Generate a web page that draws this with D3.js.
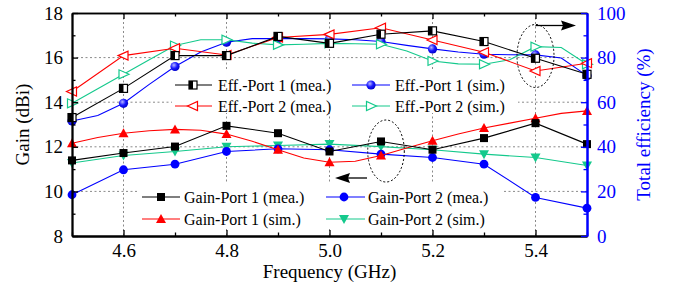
<!DOCTYPE html>
<html><head><meta charset="utf-8">
<script src="https://cdn.jsdelivr.net/npm/d3@7"></script>
<style>body{margin:0;background:#fff}svg{display:block}</style>
</head><body><svg id="c" width="673" height="288"></svg>
<script>
// ---- data ----
const freq = [4.5, 4.6, 4.7, 4.8, 4.9, 5.0, 5.1, 5.2, 5.3, 5.4, 5.5];
const freqSim = [4.5, 4.55, 4.6, 4.65, 4.7, 4.75, 4.8, 4.85, 4.9, 4.95, 5.0, 5.05, 5.1, 5.15, 5.2, 5.25, 5.3, 5.35, 5.4, 5.45, 5.5];
// total efficiency (%)
const effP1Mea = [53.1, 66.2, 80.9, 80.9, 89.5, 86.4, 90.5, 92.0, 87.2, 79.7, 72.5];
const effP2Mea = [64.8, 80.9, 84.2, 81.2, 89.0, 90.4, 93.4, 87.9, 82.4, 74.0, 77.5];
const effP1Sim = [51.6, 54.0, 59.5, 68.0, 76.0, 82.5, 86.9, 88.5, 88.5, 88.5, 88.4, 88.0, 87.2, 85.5, 83.9, 82.5, 81.5, 81.3, 81.2, 79.8, 71.9];
const effP2Sim = [59.5, 66.0, 72.5, 79.0, 85.4, 88.0, 88.0, 86.5, 85.7, 86.0, 86.4, 86.2, 86.0, 83.0, 78.5, 77.2, 77.0, 79.0, 84.9, 84.5, 77.0];
// gain (dBi)
const gainP1Mea = [11.39, 11.72, 12.01, 12.94, 12.61, 11.79, 12.24, 11.87, 12.39, 13.06, 12.12];
const gainP2Mea = [9.85, 10.97, 11.22, 11.79, 11.91, 11.87, 11.67, 11.52, 11.22, 9.73, 9.25];
const gainP1Sim = [12.16, 12.42, 12.61, 12.72, 12.78, 12.74, 12.57, 12.25, 11.87, 11.5, 11.31, 11.35, 11.61, 11.95, 12.27, 12.57, 12.84, 13.06, 13.28, 13.5, 13.61];
const gainP2Sim = [11.27, 11.61, 11.79, 12.0, 12.06, 12.12, 12.01, 11.87, 11.67, 11.52, 11.16];
// ticks
const xTicks = [4.6, 4.8, 5.0, 5.2, 5.4];
const xMinor = [4.5, 4.7, 4.9, 5.1, 5.3, 5.5];
const gainTicks = [8, 10, 12, 14, 16, 18];
const gainMinor = [9, 11, 13, 15, 17];
const effTicks = [0, 20, 40, 60, 80, 100];
const effMinor = [10, 30, 50, 70, 90];

// ---- layout ----
const W = 673, H = 288;
const m = {l: 72, r: 86, t: 13, b: 52};
const FONT = "'Liberation Serif','Times New Roman',serif";
const BLUE = "#0000ff", RED = "#ff0000", GREEN = "#14c98c", BLACK = "#000";

const svg = d3.select("#c");
const x = d3.scaleLinear().domain([4.5, 5.5]).range([m.l, W - m.r]);
const yL = d3.scaleLinear().domain([8, 18]).range([H - m.b, m.t]);
const yR = d3.scaleLinear().domain([0, 100]).range([H - m.b, m.t]);

const defs = svg.append("defs");
const rg = defs.append("radialGradient").attr("id", "sph").attr("cx", "38%").attr("cy", "35%").attr("r", "65%");
rg.append("stop").attr("offset", "0%").attr("stop-color", "#b8b8ff");
rg.append("stop").attr("offset", "55%").attr("stop-color", "#1a1aff");
rg.append("stop").attr("offset", "100%").attr("stop-color", "#0000cc");

// gridlines
const grid = svg.append("g").attr("stroke", "#8a8a8a").attr("stroke-width", 1).attr("stroke-dasharray", "2,2.5");
grid.selectAll("line.v").data(xTicks).join("line")
  .attr("x1", d => x(d)).attr("x2", d => x(d)).attr("y1", m.t).attr("y2", H - m.b);
grid.selectAll("line.h").data([10, 12, 14, 16]).join("line")
  .attr("y1", d => yL(d)).attr("y2", d => yL(d)).attr("x1", m.l).attr("x2", W - m.r);

// legend backgrounds (hide grid)
svg.append("rect").attr("x", 172).attr("y", 69).attr("width", 346).attr("height", 44).attr("fill", "#fff");
svg.append("rect").attr("x", 138).attr("y", 184).attr("width", 364).attr("height", 45).attr("fill", "#fff");

// markers
function marker(g, type, color, cx, cy) {
  const t = `translate(${cx},${cy})`;
  const s = 4.5;
  switch (type) {
    case "halfSquare":
      g.append("rect").attr("transform", t).attr("x", -4).attr("y", -4).attr("width", 8).attr("height", 8)
        .attr("fill", "#fff").attr("stroke", color).attr("stroke-width", 1.2);
      g.append("rect").attr("transform", t).attr("x", -4).attr("y", -4).attr("width", 4).attr("height", 8).attr("fill", color);
      break;
    case "square":
      g.append("rect").attr("transform", t).attr("x", -4).attr("y", -4).attr("width", 8).attr("height", 8).attr("fill", color);
      break;
    case "sphere":
      g.append("circle").attr("transform", t).attr("r", 4.6).attr("fill", "url(#sph)");
      break;
    case "circle":
      g.append("circle").attr("transform", t).attr("r", 4.4).attr("fill", color);
      break;
    case "triLeftOpen":
      g.append("path").attr("transform", t).attr("d", `M${-s - 1},0L${s},${-s}L${s},${s}Z`)
        .attr("fill", "#fff").attr("stroke", color).attr("stroke-width", 1.2);
      break;
    case "triRightOpen":
      g.append("path").attr("transform", t).attr("d", `M${s + 1},0L${-s},${-s}L${-s},${s}Z`)
        .attr("fill", "#fff").attr("stroke", color).attr("stroke-width", 1.2);
      break;
    case "triUp":
      g.append("path").attr("transform", t).attr("d", `M0,${-s - 0.5}L${s + 0.5},${s - 0.5}L${-s - 0.5},${s - 0.5}Z`).attr("fill", color);
      break;
    case "triDown":
      g.append("path").attr("transform", t).attr("d", `M0,${s + 0.5}L${s + 0.5},${-s + 0.5}L${-s - 0.5},${-s + 0.5}Z`).attr("fill", color);
      break;
  }
}

const series = [
  {name: "Eff.-Port 1 (sim.)", xs: freqSim, ys: effP1Sim, y: yR, color: BLUE, mk: "sphere"},
  {name: "Eff.-Port 2 (sim.)", xs: freqSim, ys: effP2Sim, y: yR, color: GREEN, mk: "triRightOpen"},
  {name: "Eff.-Port 2 (mea.)", xs: freq, ys: effP2Mea, y: yR, color: RED, mk: "triLeftOpen"},
  {name: "Eff.-Port 1 (mea.)", xs: freq, ys: effP1Mea, y: yR, color: BLACK, mk: "halfSquare"},
  {name: "Gain-Port 2 (sim.)", xs: freq, ys: gainP2Sim, y: yL, color: GREEN, mk: "triDown"},
  {name: "Gain-Port 2 (mea.)", xs: freq, ys: gainP2Mea, y: yL, color: BLUE, mk: "circle"},
  {name: "Gain-Port 1 (sim.)", xs: freqSim, ys: gainP1Sim, y: yL, color: RED, mk: "triUp"},
  {name: "Gain-Port 1 (mea.)", xs: freq, ys: gainP1Mea, y: yL, color: BLACK, mk: "square"}
];
const isMain = f => Math.abs(f * 10 - Math.round(f * 10)) < 1e-6;

series.forEach(s => {
  const pts = s.xs.map((f, i) => [f, s.ys[i]]);
  const line = d3.line().x(d => x(d[0])).y(d => s.y(d[1]));
  const g = svg.append("g");
  g.append("path").attr("d", line(pts)).attr("fill", "none").attr("stroke", s.color).attr("stroke-width", 1.1);
  pts.filter(d => isMain(d[0])).forEach(d => marker(g, s.mk, s.color, x(d[0]), s.y(d[1])));
});

// axes
function styleAxis(g, color, width) {
  g.select(".domain").attr("stroke", color).attr("stroke-width", width);
  g.selectAll(".tick line").attr("stroke", color).attr("stroke-width", 1.3);
  g.selectAll("text").attr("font-family", FONT).attr("font-size", 19).attr("fill", color);
}
const ax = svg.append("g");
// top
ax.append("g").attr("transform", `translate(0,${m.t})`).call(d3.axisTop(x).tickValues(xTicks).tickSize(-6).tickSizeOuter(0).tickFormat(""))
  .call(g => styleAxis(g, BLACK, 1.6));
ax.append("g").attr("transform", `translate(0,${m.t})`).call(d3.axisTop(x).tickValues(xMinor).tickSize(-3.5).tickSizeOuter(0).tickFormat(""))
  .call(g => styleAxis(g, BLACK, 1.6));
// bottom
ax.append("g").attr("transform", `translate(0,${H - m.b})`).call(d3.axisBottom(x).tickValues(xTicks).tickSize(-6).tickSizeOuter(0).tickPadding(8).tickFormat(d3.format(".1f")))
  .call(g => styleAxis(g, BLACK, 1.8));
ax.append("g").attr("transform", `translate(0,${H - m.b})`).call(d3.axisBottom(x).tickValues(xMinor).tickSize(-3.5).tickSizeOuter(0).tickFormat(""))
  .call(g => styleAxis(g, BLACK, 1.8));
// left
ax.append("g").attr("transform", `translate(${m.l},0)`).call(d3.axisLeft(yL).tickValues(gainTicks).tickSize(-6).tickSizeOuter(0).tickPadding(9))
  .call(g => styleAxis(g, BLACK, 1.8));
ax.append("g").attr("transform", `translate(${m.l},0)`).call(d3.axisLeft(yL).tickValues(gainMinor).tickSize(-3.5).tickSizeOuter(0).tickFormat(""))
  .call(g => styleAxis(g, BLACK, 1.8));
// right
ax.append("g").attr("transform", `translate(${W - m.r},0)`).call(d3.axisRight(yR).tickValues(effTicks).tickSize(-6).tickSizeOuter(0).tickPadding(10))
  .call(g => styleAxis(g, BLUE, 2));
ax.append("g").attr("transform", `translate(${W - m.r},0)`).call(d3.axisRight(yR).tickValues(effMinor).tickSize(-3.5).tickSizeOuter(0).tickFormat(""))
  .call(g => styleAxis(g, BLUE, 2));

// axis titles
svg.append("text").attr("transform", `translate(29,${(m.t + H - m.b) / 2}) rotate(-90)`).attr("text-anchor", "middle")
  .attr("font-family", FONT).attr("font-size", 19).text("Gain (dBi)");
svg.append("text").attr("transform", `translate(650,${(m.t + H - m.b) / 2}) rotate(-90)`).attr("text-anchor", "middle")
  .attr("font-family", FONT).attr("font-size", 19).attr("fill", BLUE).text("Total efficiency (%)");
svg.append("text").attr("x", (m.l + W - m.r) / 2).attr("y", 278).attr("text-anchor", "middle")
  .attr("font-family", FONT).attr("font-size", 19).text("Frequency (GHz)");

// legends
const byName = Object.fromEntries(series.map(s => [s.name, s]));
function legendItem(name, lx1, lx2, mx, tx, ly) {
  const s = byName[name];
  const g = svg.append("g");
  g.append("line").attr("x1", lx1).attr("x2", lx2).attr("y1", ly).attr("y2", ly).attr("stroke", s.color).attr("stroke-width", 1.1);
  marker(g, s.mk, s.color, mx, ly);
  g.append("text").attr("x", tx).attr("y", ly).attr("dy", "0.35em").attr("font-family", FONT).attr("font-size", 16).text(name);
}
legendItem("Eff.-Port 1 (mea.)", 175, 212, 193, 218, 85);
legendItem("Eff.-Port 1 (sim.)", 352, 390, 371, 395, 85);
legendItem("Eff.-Port 2 (mea.)", 175, 212, 193, 218, 106);
legendItem("Eff.-Port 2 (sim.)", 352, 390, 371, 395, 106);
legendItem("Gain-Port 1 (mea.)", 142, 180, 161, 184, 197);
legendItem("Gain-Port 2 (mea.)", 326, 365, 344, 368, 197);
legendItem("Gain-Port 1 (sim.)", 142, 180, 161, 184, 219);
legendItem("Gain-Port 2 (sim.)", 326, 365, 344, 368, 219);

// annotations: dotted ellipses and arrows
const ann = svg.append("g");
ann.append("ellipse").attr("cx", x(5.4)).attr("cy", 56).attr("rx", 18.5).attr("ry", 31.5)
  .attr("fill", "none").attr("stroke", "#000").attr("stroke-width", 1).attr("stroke-dasharray", "2,2");
ann.append("ellipse").attr("cx", x(5.1) + 5).attr("cy", 151).attr("rx", 18.3).attr("ry", 31)
  .attr("fill", "none").attr("stroke", "#000").attr("stroke-width", 1).attr("stroke-dasharray", "2,2");
// right arrow
ann.append("line").attr("x1", x(5.4)).attr("x2", 563).attr("y1", 25.5).attr("y2", 25.5).attr("stroke", "#000").attr("stroke-width", 1.3);
ann.append("path").attr("d", "M576,25.5L561,20.5L563,25.5L561,30.5Z").attr("fill", "#000");
// left arrow
ann.append("line").attr("x1", 367).attr("x2", 348).attr("y1", 178).attr("y2", 178).attr("stroke", "#000").attr("stroke-width", 1.3);
ann.append("path").attr("d", "M335,178L350,173L348,178L350,183Z").attr("fill", "#000");
</script></body></html>
